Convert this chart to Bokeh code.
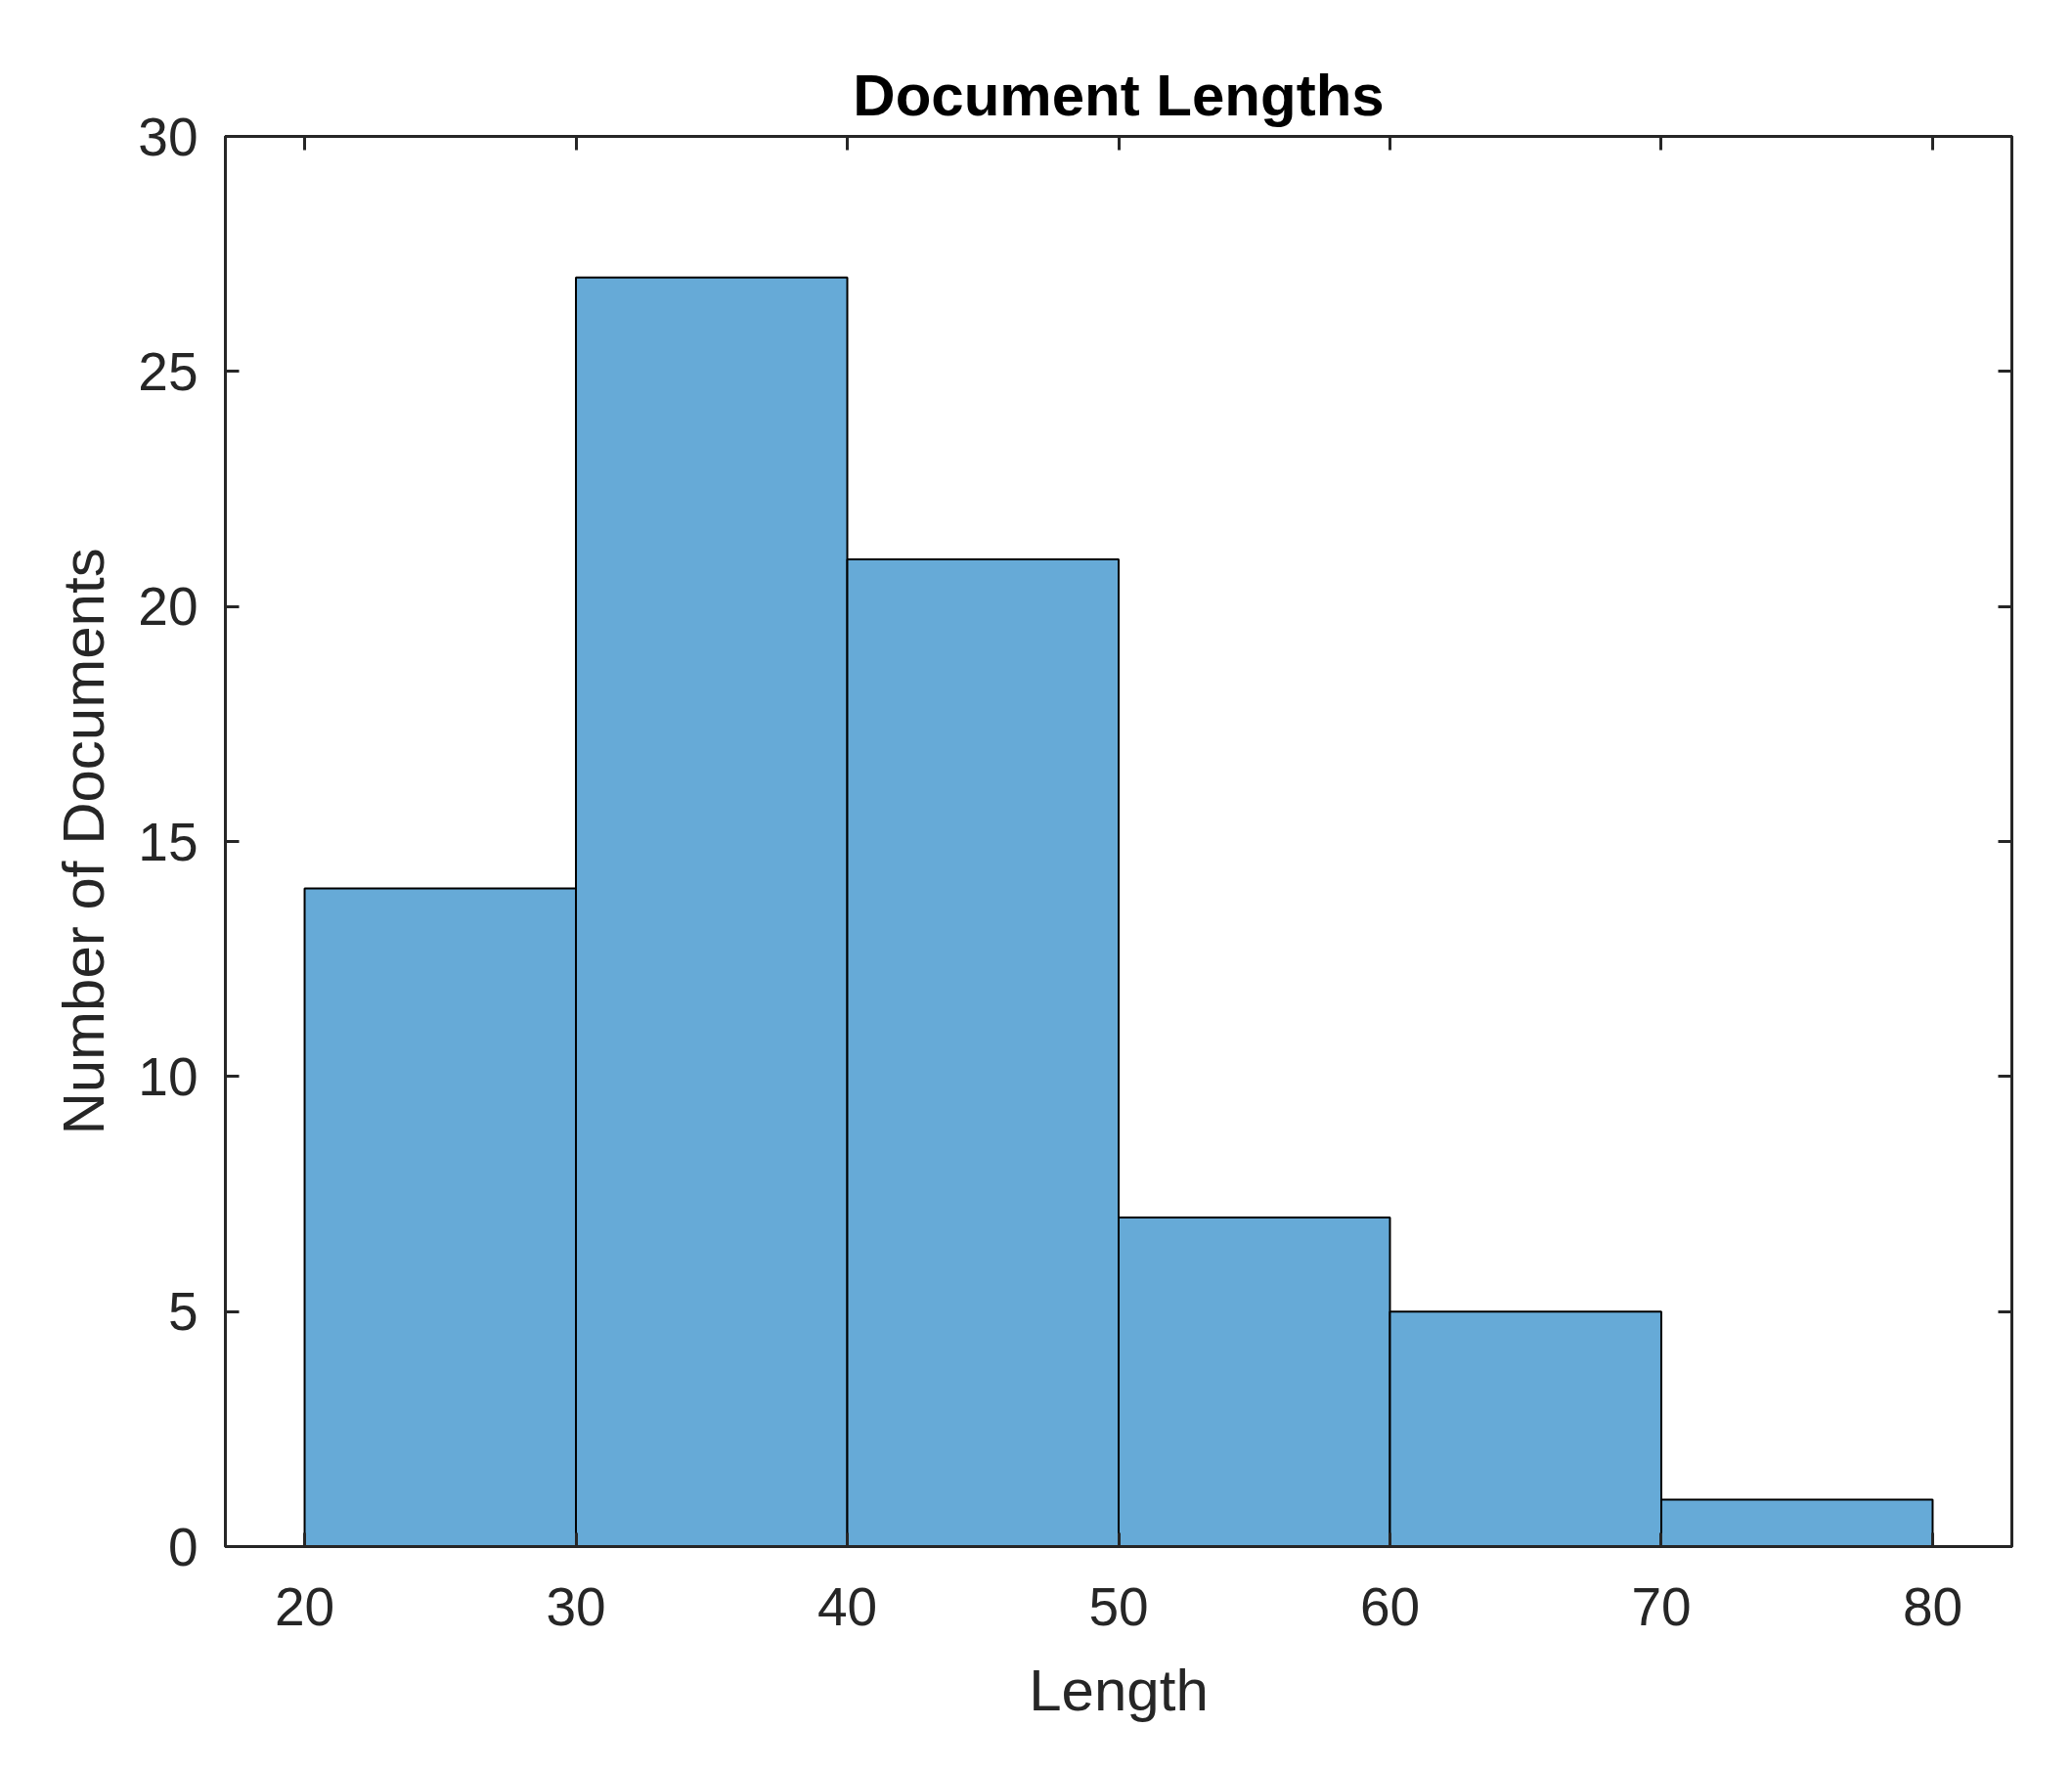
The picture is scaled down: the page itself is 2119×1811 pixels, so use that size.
from bokeh.plotting import figure
from bokeh.models import LinearAxis, FixedTicker, Range1d
from bokeh.embed import file_html
from bokeh.resources import INLINE

bin_edges = [20, 30, 40, 50, 60, 70, 80]
counts = [14, 27, 21, 7, 5, 1]
x_ticks = [20, 30, 40, 50, 60, 70, 80]
y_ticks = [0, 5, 10, 15, 20, 25, 30]

title_text = "Document Lengths"
x_label = "Length"
y_label = "Number of Documents"

AX = "#262626"
FONT = "Liberation Sans"

p = figure(width=2103, height=1795, output_backend="svg", toolbar_location=None,
           x_range=Range1d(17.08, 82.92), y_range=Range1d(0, 30),
           min_border_left=230, min_border_right=46, min_border_top=139, min_border_bottom=214)

p.quad(left=bin_edges[:-1], right=bin_edges[1:], top=counts, bottom=0,
       fill_color="#66AAD7", line_color="#000000", line_width=2)

p.xgrid.visible = False
p.ygrid.visible = False
p.background_fill_color = "white"
p.border_fill_color = "white"
p.outline_line_color = AX
p.outline_line_width = 3

p.title.text = title_text
p.title.align = "center"
p.title.text_font = FONT
p.title.text_font_size = "60px"
p.title.text_font_style = "bold"
p.title.text_color = "#000000"
p.title.standoff = 18

def style(ax, labels=True):
    ax.axis_line_color = AX
    ax.axis_line_width = 3
    ax.major_tick_line_color = AX
    ax.major_tick_line_width = 3
    ax.major_tick_in = 14
    ax.major_tick_out = 0
    ax.minor_tick_in = 0
    ax.minor_tick_out = 0
    ax.major_label_text_font = FONT
    ax.major_label_text_font_size = "55px"
    ax.major_label_text_color = AX
    ax.axis_label_text_font = FONT
    ax.axis_label_text_font_size = "60px"
    ax.axis_label_text_color = AX
    ax.axis_label_text_font_style = "normal"
    if not labels:
        ax.major_label_text_font_size = "0px"
        ax.major_label_standoff = 0

xa = p.xaxis[0]
ya = p.yaxis[0]
xa.ticker = FixedTicker(ticks=x_ticks)
ya.ticker = FixedTicker(ticks=y_ticks)
xa.axis_label = x_label
ya.axis_label = y_label
style(xa)
style(ya)
xa.major_label_standoff = 42
xa.axis_label_standoff = 30
ya.major_label_standoff = 28
ya.axis_label_standoff = 19

top_ax = LinearAxis(ticker=FixedTicker(ticks=x_ticks))
right_ax = LinearAxis(ticker=FixedTicker(ticks=y_ticks))
style(top_ax, labels=False)
style(right_ax, labels=False)
top_ax.major_label_overrides = {t: "" for t in x_ticks}
right_ax.major_label_overrides = {t: "" for t in y_ticks}
p.add_layout(top_ax, "above")
p.add_layout(right_ax, "right")

open("out.html", "w").write(file_html(p, INLINE))
